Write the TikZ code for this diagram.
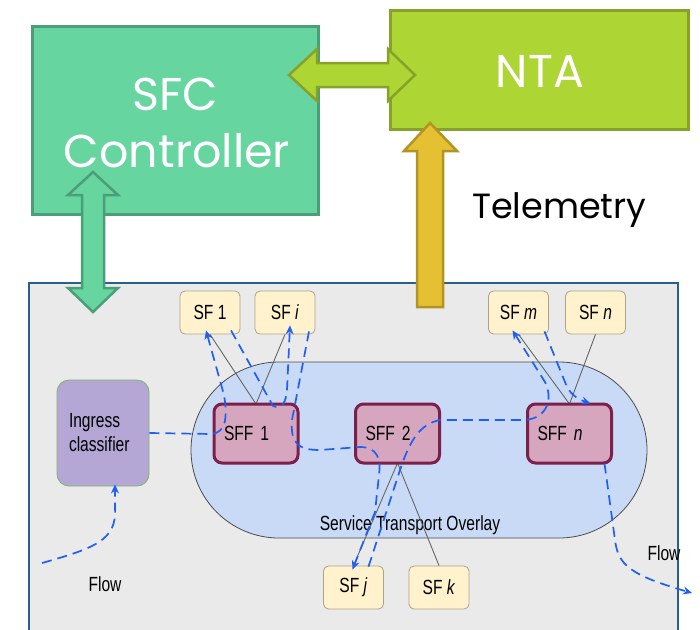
\documentclass[tikz,border=0pt]{standalone}
\usepackage{fontspec}
\setmainfont{Liberation Sans}
\newfontfamily\narrowfont[FakeStretch=0.76]{Liberation Sans}
\newfontfamily\gothicfont{Poppins}
\usetikzlibrary{arrows.meta}
\definecolor{sfcfill}{HTML}{66D5A0}
\definecolor{sfcdraw}{HTML}{4A9E78}
\definecolor{ntafill}{HTML}{ADD534}
\definecolor{ntadraw}{HTML}{86A22B}
\definecolor{telfill}{HTML}{E5C033}
\definecolor{teldraw}{HTML}{B39423}
\definecolor{bgfill}{HTML}{EAEAEA}
\definecolor{bgdraw}{HTML}{2A5F88}
\definecolor{ovfill}{HTML}{C9DAF6}
\definecolor{sffill}{HTML}{FFF2CC}
\definecolor{sfdraw}{HTML}{ABA38C}
\definecolor{sfffill}{HTML}{D5A6BD}
\definecolor{sffdraw}{HTML}{7B1F4B}
\definecolor{ingfill}{HTML}{B4A7D6}
\definecolor{ingdraw}{HTML}{82B366}
\definecolor{flowblue}{HTML}{1F5FF5}
\tikzset{
  smalltext/.style={font=\narrowfont\fontsize{20.5}{24}\selectfont},
  sfbox/.style={draw=sfdraw, fill=sffill, line width=0.8pt, rounded corners=5pt,
    minimum width=60pt, minimum height=43pt, inner sep=0pt, smalltext},
  sffbox/.style={draw=sffdraw, fill=sfffill, line width=3pt, rounded corners=8pt,
    minimum width=84pt, minimum height=59pt, inner xsep=10pt, inner ysep=0pt,
    text width=64pt, align=left, smalltext},
  grayline/.style={draw=black!60, line width=0.9pt},
  flowline/.style={draw=flowblue, line width=1.7pt, dash pattern=on 10pt off 6pt},
  flowarrow/.style={flowline, -{Stealth[length=9pt,width=8pt,inset=3pt]}},
  bigtext/.style={font=\gothicfont\fontsize{46}{50}\selectfont, text=white, inner sep=0pt},
}
\begin{document}
\begin{tikzpicture}[x=1pt,y=-1pt]
\useasboundingbox (0,0) rectangle (700,629);
\clip (0,0) rectangle (700,629);

% background region
\draw[fill=bgfill, draw=bgdraw, line width=1.5pt] (29,283) rectangle (678,660);

% service transport overlay
\draw[fill=ovfill, draw=black!70, line width=0.8pt, rounded corners=88pt] (191,362) rectangle (647,538);
\node[smalltext, inner sep=0pt, anchor=base] (stolabel) at (410,530) {Service Transport Overlay};

% SF boxes
\node[sfbox] (sf1) at (210,312.5) {SF 1};
\node[sfbox] (sfi) at (285,312.5) {SF \textit{i}};
\node[sfbox] (sfm) at (518.5,312.5) {SF \textit{m}};
\node[sfbox] (sfn) at (595.5,312.5) {SF \textit{n}};
\node[sfbox] (sfj) at (353.5,587.5) {SF \textit{j}};
\node[sfbox] (sfk) at (439,587.5) {SF \textit{k}};

% SFF boxes positions (for lines)
\coordinate (sff1c) at (256,433.5);
\coordinate (sff2c) at (397.5,433.5);
\coordinate (sffnc) at (569.5,433.5);

% gray links (drawn first, under SFF boxes)
\path (sff1c) ++(0,-29.5) coordinate (sff1top);
\path (sff2c) ++(0,29.5) coordinate (sff2bot);
\path (sffnc) ++(0,-29.5) coordinate (sffntop);
\draw[grayline] (sf1.south) -- (sff1top);
\draw[grayline] (sfi.south) -- (sff1top);
\draw[grayline] (sfm.south) -- (sffntop);
\draw[grayline] (sfn.south) -- (sffntop);
\draw[grayline] (sff2bot) -- (sfj.north);
\draw[grayline] (sff2bot) -- (sfk.north);

\node[sffbox] (sff1) at (sff1c) {SFF 1};
\node[sffbox] (sff2) at (sff2c) {SFF 2};
\node[sffbox] (sffn) at (sffnc) {SFF \textit{n}};

% ingress classifier
\node[draw=ingdraw, fill=ingfill, line width=0.8pt, rounded corners=12pt,
  minimum width=92pt, minimum height=106pt, inner xsep=12pt, inner ysep=0pt,
  text width=68pt, align=left, smalltext] (ing) at (103,433) {Ingress\\classifier};

% flow labels
\node[smalltext, inner sep=0pt] (flowin) at (105,584) {Flow};
\node[smalltext, inner sep=0pt] (flowout) at (664,553) {Flow};

% flow paths
\coordinate (fstart) at (42,563);
\coordinate (fend) at (692,593);
\draw[flowarrow] (fstart) .. controls (95,548) and (117,540) .. (115,508) -- ([xshift=12pt,yshift=2pt]ing.south);
\draw[flowarrow] (ing.east) -- (212,434) .. controls (225,432) and (228,420) .. (224,395) -- ([xshift=-4pt,yshift=4pt]sf1.south);
\draw[flowarrow] ([xshift=21pt,yshift=4pt]sf1.south) -- (273,406) .. controls (282,410) and (286,402) .. (287,390) -- ([xshift=5pt,yshift=9pt]sfi.south);
\draw[flowarrow] ([xshift=24pt,yshift=3pt]sfi.south) -- (292,420) .. controls (290,445) and (300,450) .. (320,450) -- (360,447) .. controls (378,447) and (381,460) .. (379,475) -- (375,512) -- ([xshift=-1pt,yshift=-4pt]sfj.north);
\draw[flowarrow] ([xshift=15pt,yshift=-1pt]sfj.north) -- (400,470) .. controls (410,440) and (420,424) .. (440,420) -- (525,420) .. controls (548,418) and (553,398) .. (545,382) -- ([xshift=-6pt,yshift=4pt]sfm.south);
\draw[flowarrow] ([xshift=26pt,yshift=3pt]sfm.south) -- (567,387) .. controls (572,396) and (580,400) .. ([xshift=21pt,yshift=-1pt]sffn.north);
\draw[flowarrow] ([xshift=35pt,yshift=1pt]sffn.south) -- (615,540) .. controls (618,565) and (630,575) .. (fend);

% SFC controller and NTA
\node[draw=sfcdraw, fill=sfcfill, line width=3pt, minimum width=286pt, minimum height=188pt, inner sep=0pt] (sfc) at (175,120.5) {};
\node[bigtext, anchor=base] (sfct1) at (175,110) {SFC};
\node[bigtext, anchor=base] (sfct2) at (177,167) {Controller};
\node[draw=ntadraw, fill=ntafill, line width=3pt, minimum width=298pt, minimum height=119pt, inner sep=0pt] (nta) at (539,70) {};
\node[bigtext, anchor=base] (ntat) at (540,87) {NTA};

% telemetry label
\node[font=\gothicfont\fontsize{35}{40}\selectfont, inner sep=0pt, anchor=base west] (tel) at (472,218) {Telemetry};

% double arrow SFC <-> NTA
\draw[fill=ntafill, draw=ntadraw, line width=2.5pt, line join=miter]
  (289,75) -- (317,49) -- (317,63) -- (388,63) -- (388,49) -- (415,75)
  -- (388,101) -- (388,87) -- (317,87) -- (317,101) -- cycle;

% vertical double arrow SFC <-> domain
\draw[fill=sfcfill, draw=sfcdraw, line width=2.5pt, line join=miter]
  (93,172) -- (118,195) -- (104,195) -- (104,288) -- (118,288) -- (93,312)
  -- (68,288) -- (82,288) -- (82,195) -- (68,195) -- cycle;

% telemetry arrow
\draw[fill=telfill, draw=teldraw, line width=2.5pt, line join=miter]
  (430,123) -- (457,151) -- (443,151) -- (443,307) -- (417,307) -- (417,151) -- (404,151) -- cycle;
\end{tikzpicture}
\end{document}
